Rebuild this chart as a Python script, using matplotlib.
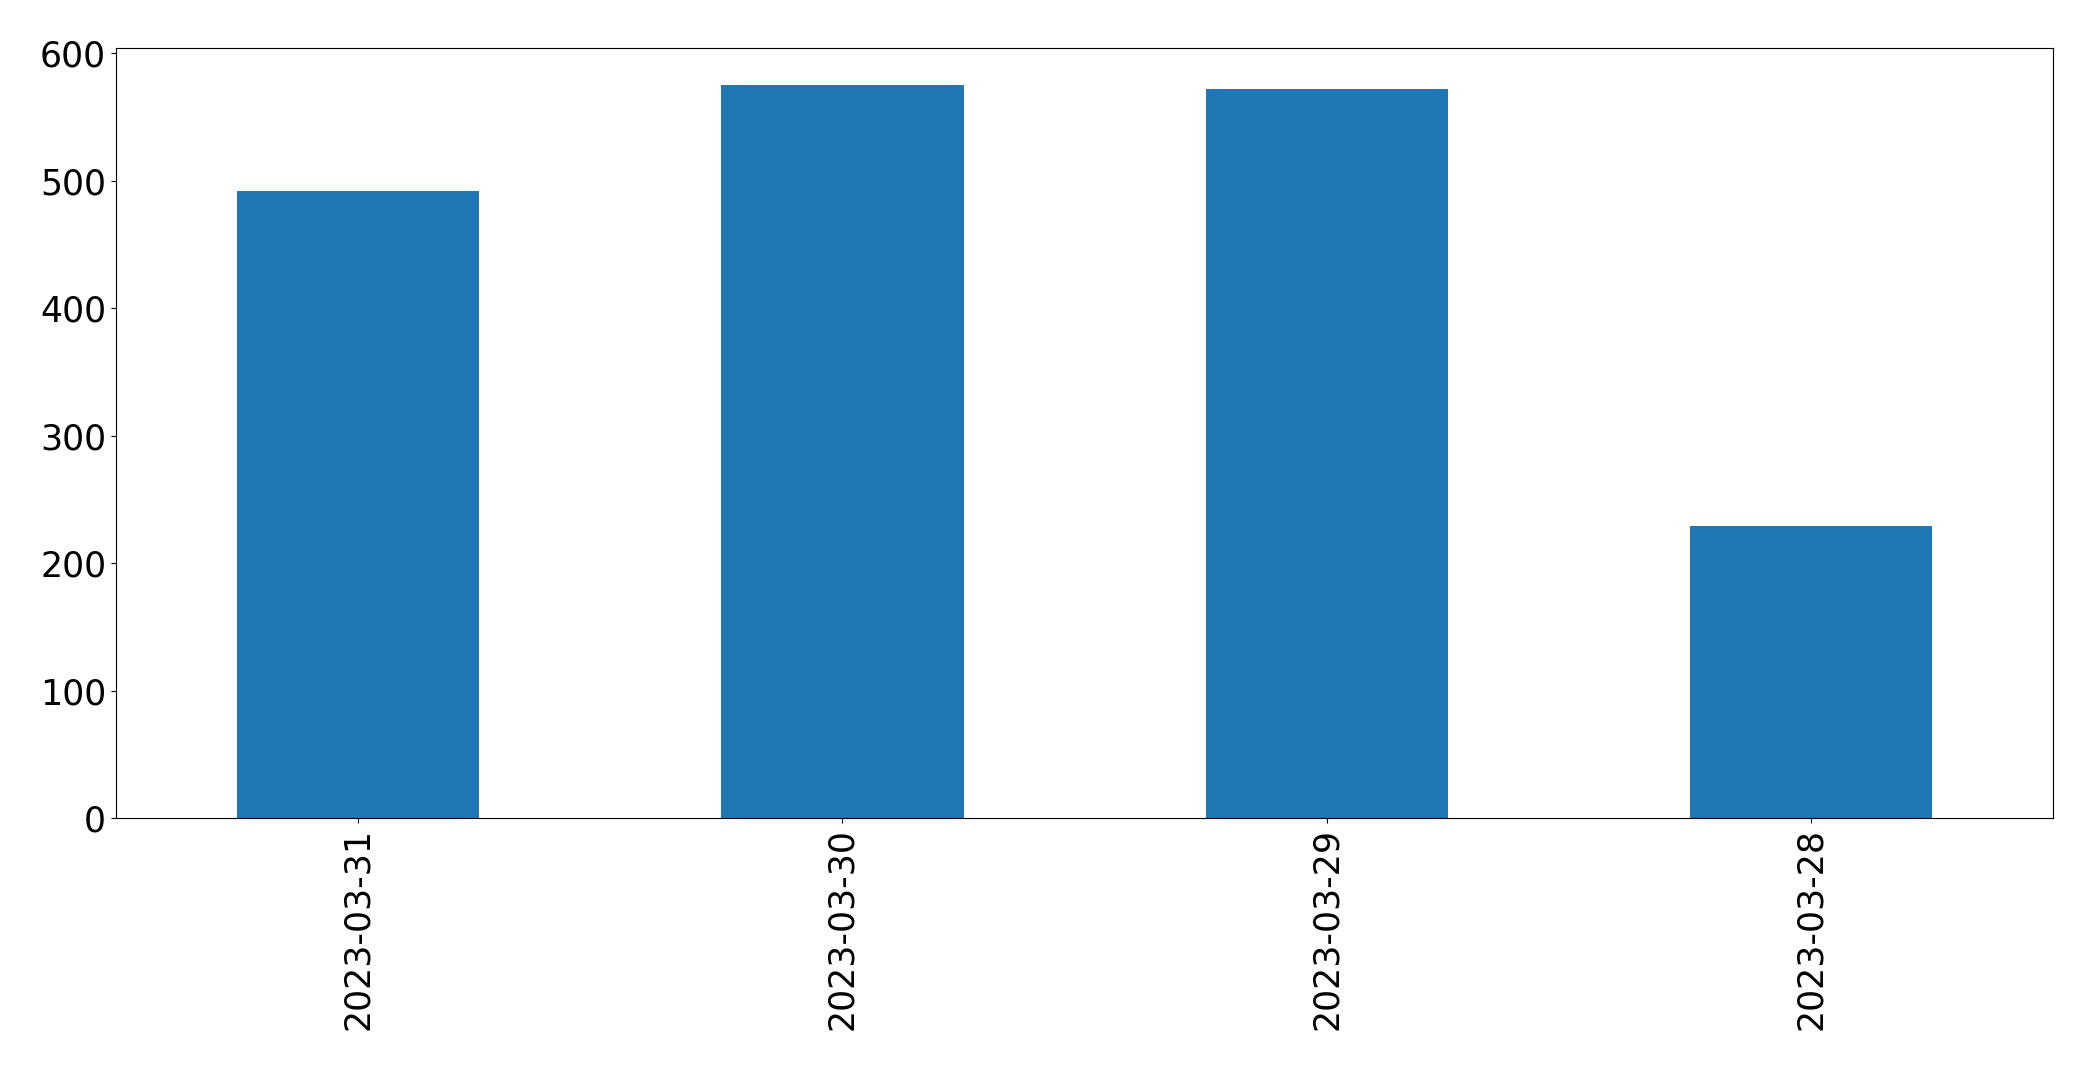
import matplotlib
matplotlib.use('Agg')
import matplotlib.pyplot as plt
import numpy as np

# daily counts, newest first
dates = ['2023-03-31', '2023-03-30', '2023-03-29', '2023-03-28']
counts = [492, 575, 572, 229]

fig, ax = plt.subplots(figsize=(20.93, 10.70), dpi=100)
fig.subplots_adjust(left=0.0554, right=0.981, top=0.9549, bottom=0.2352)

x = np.arange(len(dates))
ax.bar(x, counts, width=0.5, color='#1f77b4')
ax.set_xlim(-0.5, len(dates) - 0.5)
ax.set_xticks(x)
ax.set_xticklabels(dates, rotation=90)
ax.tick_params(axis='both', labelsize=25)

fig.savefig('out.png', dpi=100)
